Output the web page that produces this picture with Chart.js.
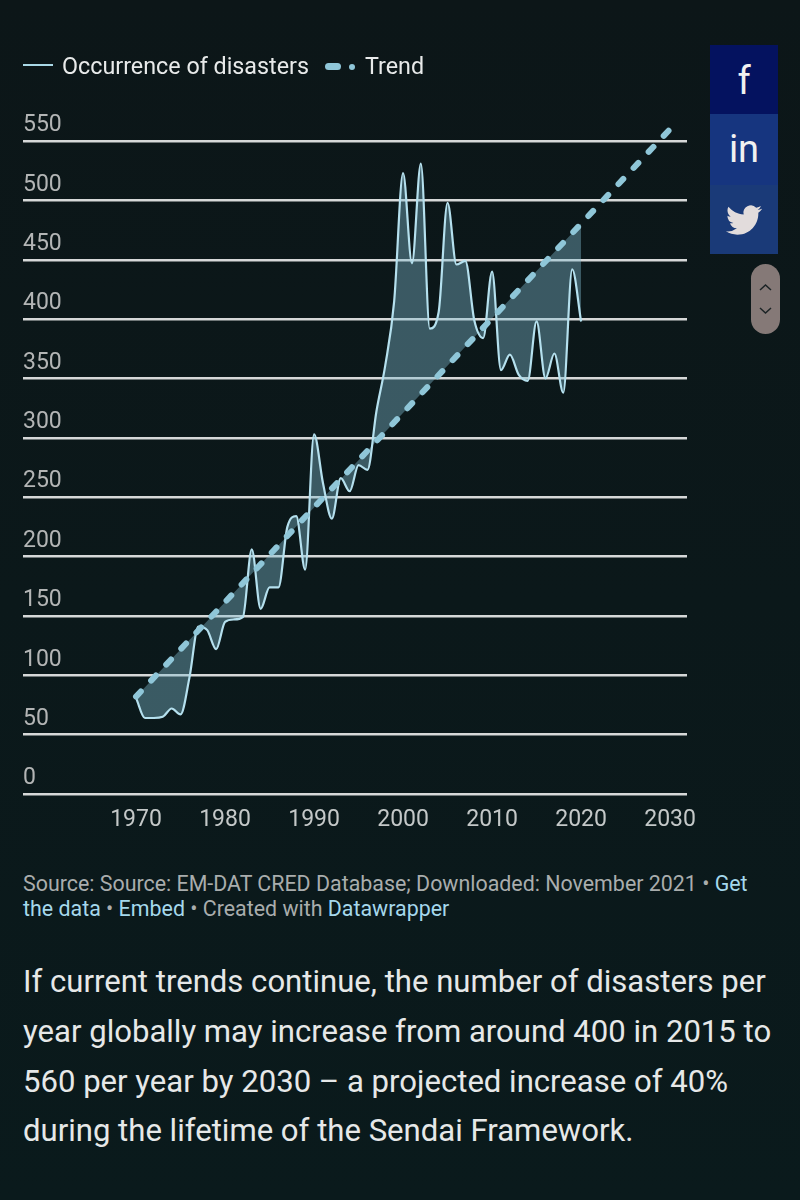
<!DOCTYPE html>
<html>
<head>
<meta charset="utf-8">
<title>Occurrence of disasters</title>
<script src="https://cdn.jsdelivr.net/npm/chart.js@4"></script>
<style>
  html, body { margin: 0; padding: 0; }
  body {
    width: 800px; height: 1200px; position: relative; overflow: hidden;
    background: linear-gradient(#0c1618, #0a1a1c);
    font-family: Roboto, sans-serif;
  }
  #wrap { position: absolute; left: 0; top: 0; width: 800px; height: 840px; }
  .legend { position: absolute; top: 51px; left: 0; height: 30px; font-size: 23.3px; line-height: 30px; color: #e8eaea; white-space: nowrap; }
  .legend span { position: absolute; top: 0; }
  .legend i { position: absolute; display: block; }
  .source { position: absolute; left: 23px; top: 871px; width: 770px; font-size: 21.4px; line-height: 25px; color: #a9adad; white-space: nowrap; }
  .source b { font-weight: 400; color: #a5d8ec; }
  .story { position: absolute; left: 23px; top: 957px; width: 777px; font-size: 31.1px; line-height: 49.8px; color: #e6e8e8; white-space: nowrap; }
  .share { position: absolute; left: 710px; top: 45px; width: 68px; height: 209px; background: #17377c; }
  .share div { position: absolute; left: 0; width: 68px; text-align: center; color: #f1f1f1; }
  .pill { position: absolute; left: 751px; top: 264px; width: 29px; height: 70px; border-radius: 15px; background: #857977; }
</style>
</head>
<body>
<div id="wrap"><canvas id="disasterChart" width="800" height="840"></canvas></div>

<div class="legend">
  <i style="left:23px;top:13px;width:30px;height:2px;background:#a9d8e6"></i>
  <span style="left:62px">Occurrence of disasters</span>
  <i style="left:325px;top:12px;width:16px;height:7px;border-radius:3.5px;background:#8fc6d8"></i>
  <i style="left:349px;top:13px;width:6px;height:6px;border-radius:3px;background:#8fc6d8"></i>
  <span style="left:365px">Trend</span>
</div>

<div class="share">
  <div style="top:0;height:69px;background:#04125f;font-size:38px;line-height:72px">f</div>
  <div style="top:69px;height:71px;background:#16357f;font-size:38px;line-height:71px">in</div>
  <div style="top:140px;height:69px;background:#1a3a78">
    <svg width="36" height="36" viewBox="0 0 24 24" style="margin-top:17px"><path fill="#e2dcdc" d="M23.953 4.57a10 10 0 01-2.825.775 4.958 4.958 0 002.163-2.723c-.951.555-2.005.959-3.127 1.184a4.92 4.92 0 00-8.384 4.482C7.69 8.095 4.067 6.13 1.64 3.162a4.822 4.822 0 00-.666 2.475c0 1.71.87 3.213 2.188 4.096a4.904 4.904 0 01-2.228-.616v.06a4.923 4.923 0 003.946 4.827 4.996 4.996 0 01-2.212.085 4.936 4.936 0 004.604 3.417 9.867 9.867 0 01-6.102 2.105c-.39 0-.779-.023-1.17-.067a13.995 13.995 0 007.557 2.209c9.053 0 13.998-7.496 13.998-13.985 0-.21 0-.42-.015-.63A9.935 9.935 0 0024 4.59z"/></svg>
  </div>
</div>
<div class="pill">
  <svg width="29" height="70" viewBox="0 0 29 70"><path d="M9 26l5.500-5 5.500 5M9 44l5.500 5 5.500-5" fill="none" stroke="#1c2426" stroke-width="1.500"/></svg>
</div>

<div class="source">Source: Source: EM-DAT CRED Database; Downloaded: November 2021 • <b>Get</b><br><b>the data</b> • <b>Embed</b> • Created with <b>Datawrapper</b></div>
<div class="story">If current trends continue, the number of disasters per<br>year globally may increase from around 400 in 2015 to<br>560 per year by 2030 – a projected increase of 40%<br>during the lifetime of the Sendai Framework.</div>

<script>
// yearly counts
const years = [1970, 1971, 1972, 1973, 1974, 1975, 1976, 1977, 1978, 1979,
  1980, 1981, 1982, 1983, 1984, 1985, 1986, 1987, 1988, 1989,
  1990, 1991, 1992, 1993, 1994, 1995, 1996, 1997, 1998, 1999,
  2000, 2001, 2002, 2003, 2004, 2005, 2006, 2007, 2008, 2009,
  2010, 2011, 2012, 2013, 2014, 2015, 2016, 2017, 2018, 2019, 2020];
const occurrences = [81, 64, 64, 65, 72, 67, 98, 141, 138, 122,
  145, 147, 149, 206, 156, 174, 174, 225, 234, 189,
  303, 262, 232, 266, 255, 277, 273, 322, 361, 415,
  523, 447, 531, 392, 406, 498, 446, 449, 399, 384,
  440, 357, 370, 353, 348, 398, 350, 371, 338, 442, 398];

// trend line end points
const trendYears = [1970, 2030];
const trendValues = [82, 560];

const xTicks = [1970, 1980, 1990, 2000, 2010, 2020, 2030];
const yTicks = [0, 50, 100, 150, 200, 250, 300, 350, 400, 450, 500, 550];

const toPoints = (xs, ys) => xs.map((x, i) => ({ x: x, y: ys[i] }));

const ctx = document.getElementById('disasterChart');

new Chart(ctx, {
  type: 'line',
  data: {
    datasets: [{
      label: 'Trend',
      data: toPoints(trendYears, trendValues),
      borderColor: '#8fc6d8',
      borderWidth: 6,
      borderDash: [7, 15],
      borderCapStyle: 'round',
      pointRadius: 0,
      fill: false,
      clip: false
    }, {
      label: 'Occurrence of disasters',
      data: toPoints(years, occurrences),
      borderColor: '#b5e0ee',
      borderWidth: 2.2,
      cubicInterpolationMode: 'monotone',
      pointRadius: 0,
      backgroundColor: 'rgba(130, 190, 210, 0.4)',
      fill: { target: 0 }
    }]
  },
  options: {
    responsive: false,
    animation: false,
    layout: { padding: { left: 23, right: 113, top: 141, bottom: 0 } },
    plugins: {
      legend: { display: false },
      tooltip: { enabled: false }
    },
    scales: {
      x: {
        type: 'linear',
        min: 1957.3,
        max: 2031.9,
        afterBuildTicks: (scale) => { scale.ticks = xTicks.map(v => ({ value: v })); },
        afterFit: (scale) => { scale.height = 46; },
        grid: { display: false, drawTicks: false },
        border: { display: false },
        ticks: {
          autoSkip: false,
          maxRotation: 0,
          padding: 12,
          color: '#c4c8c8',
          font: { family: 'Roboto', size: 23 },
          callback: (v) => String(v)
        }
      },
      y: {
        min: 0,
        max: 550,
        afterBuildTicks: (scale) => { scale.ticks = yTicks.map(v => ({ value: v })); },
        afterFit: (scale) => { scale.width = 0; },
        grid: { color: '#d6d8d8', lineWidth: 2.4, drawTicks: false },
        border: { display: false },
        ticks: {
          mirror: true,
          padding: 0,
          labelOffset: -15.5,
          color: '#b3b5b5',
          font: { family: 'Roboto', size: 23 }
        }
      }
    }
  }
});
</script>
</body>
</html>
